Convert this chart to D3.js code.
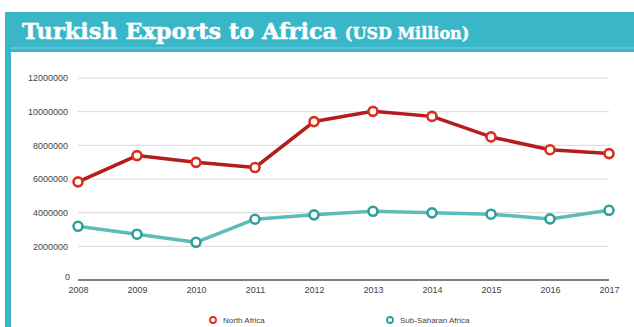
<!DOCTYPE html>
<html>
<head>
<meta charset="utf-8">
<script src="https://cdn.jsdelivr.net/npm/d3@7"></script>
<style>
  body { margin: 0; background: #fff; }
  svg { display: block; }
</style>
</head>
<body>
<div class="chart"></div>
<script>
let years = [2008, 2009, 2010, 2011, 2012, 2013, 2014, 2015, 2016, 2017];
let northAfrica = [5830000, 7390000, 6990000, 6680000, 9410000, 10020000, 9720000, 8500000, 7740000, 7510000];
let subSaharan = [3190000, 2720000, 2240000, 3610000, 3870000, 4080000, 3990000, 3910000, 3630000, 4140000];
let yTicks = [0, 2000000, 4000000, 6000000, 8000000, 10000000, 12000000];
let seriesNames = ["North Africa", "Sub-Saharan Africa"];

let svgWidth = 634;
let svgHeight = 327;
let margin = {top: 78, left: 78, right: 25, bottom: 47};
let width = svgWidth - margin.left - margin.right;
let height = svgHeight - margin.top - margin.bottom;
let teal = "#39b6c7";

let svg = d3.select(".chart")
    .append("svg")
    .attr("width", svgWidth)
    .attr("height", svgHeight);

// frame + header band
svg.append("rect")
    .attr("x", 5).attr("y", 12)
    .attr("width", svgWidth - 5).attr("height", 40)
    .attr("fill", teal);
svg.append("rect")
    .attr("x", 5).attr("y", 12)
    .attr("width", 6).attr("height", svgHeight - 12)
    .attr("fill", teal);
svg.append("rect")
    .attr("x", 11).attr("y", 47)
    .attr("width", svgWidth - 11).attr("height", 2)
    .attr("fill", "#5cc3d1");

let title = svg.append("text")
    .attr("x", 22).attr("y", 39)
    .attr("fill", "#fff")
    .attr("font-family", "DejaVu Serif")
    .attr("font-weight", "bold");
title.append("tspan")
    .attr("font-size", 22.4)
    .attr("stroke", "#fff")
    .attr("stroke-width", 0.5)
    .text("Turkish Exports to Africa ");
title.append("tspan")
    .attr("font-size", 16)
    .attr("stroke", "#fff")
    .attr("stroke-width", 0.4)
    .text("(USD Million)");

let chartgroup = svg.append("g")
    .attr("transform", `translate(${margin.left}, ${margin.top})`);

let xScale = d3.scalePoint()
    .domain(years)
    .range([0, width]);
let yScale = d3.scaleLinear()
    .domain([0, 12000000])
    .range([height, 0]);

// gridlines
chartgroup.append("g")
    .selectAll("line")
    .data(yTicks.filter(d => d > 0))
    .enter()
    .append("line")
    .attr("x1", 0).attr("x2", width)
    .attr("y1", d => yScale(d)).attr("y2", d => yScale(d))
    .attr("stroke", "#d9d9d9")
    .attr("stroke-width", 1);

// baseline
chartgroup.append("line")
    .attr("x1", 0).attr("x2", width)
    .attr("y1", height).attr("y2", height)
    .attr("stroke", "#808080")
    .attr("stroke-width", 2);

let leftAxis = d3.axisLeft(yScale).tickValues(yTicks).tickSize(0).tickPadding(10).tickFormat(d3.format("d"));
let yAxis = chartgroup.append("g").call(leftAxis);
yAxis.select(".domain").remove();
yAxis.selectAll("text")
    .attr("font-family", "Liberation Sans, Arial")
    .attr("font-size", 9)
    .attr("fill", "#444");
yAxis.selectAll("text").filter(d => d === 0).attr("dy", "-0.1em").attr("x", -8);

let bottomAxis = d3.axisBottom(xScale).tickSize(0).tickPadding(7);
let xAxis = chartgroup.append("g")
    .attr("transform", `translate(0, ${height})`)
    .call(bottomAxis);
xAxis.select(".domain").remove();
xAxis.selectAll("text")
    .attr("font-family", "Liberation Sans, Arial")
    .attr("font-size", 9)
    .attr("fill", "#444");

let series = [
    {name: seriesNames[0], values: northAfrica, line: "#b51d1a", dot: "#d8301e"},
    {name: seriesNames[1], values: subSaharan, line: "#5bbcb9", dot: "#2f9f9d"}
];

let line = d3.line()
    .x((d, i) => xScale(years[i]))
    .y(d => yScale(d));

series.forEach(function(s) {
    chartgroup.append("path")
        .datum(s.values)
        .attr("d", line)
        .attr("fill", "none")
        .attr("stroke", s.line)
        .attr("stroke-width", 3.5)
        .attr("stroke-linejoin", "round");
    chartgroup.selectAll(null)
        .data(s.values)
        .enter()
        .append("circle")
        .attr("cx", (d, i) => xScale(years[i]))
        .attr("cy", d => yScale(d))
        .attr("r", 4.5)
        .attr("fill", "#fff")
        .attr("stroke", s.dot)
        .attr("stroke-width", 2.6);
});

// legend
let legendX = [213, 390];
let legend = svg.append("g")
    .selectAll("g")
    .data(series)
    .enter()
    .append("g")
    .attr("transform", (d, i) => `translate(${legendX[i]}, 320)`);
legend.append("circle")
    .attr("r", 3)
    .attr("fill", "#fff")
    .attr("stroke", d => d.dot)
    .attr("stroke-width", 1.8);
legend.append("text")
    .attr("x", 10)
    .attr("y", 3)
    .attr("font-family", "Liberation Sans, Arial")
    .attr("font-size", 8)
    .attr("fill", "#444")
    .text(d => d.name);
</script>
</body>
</html>
